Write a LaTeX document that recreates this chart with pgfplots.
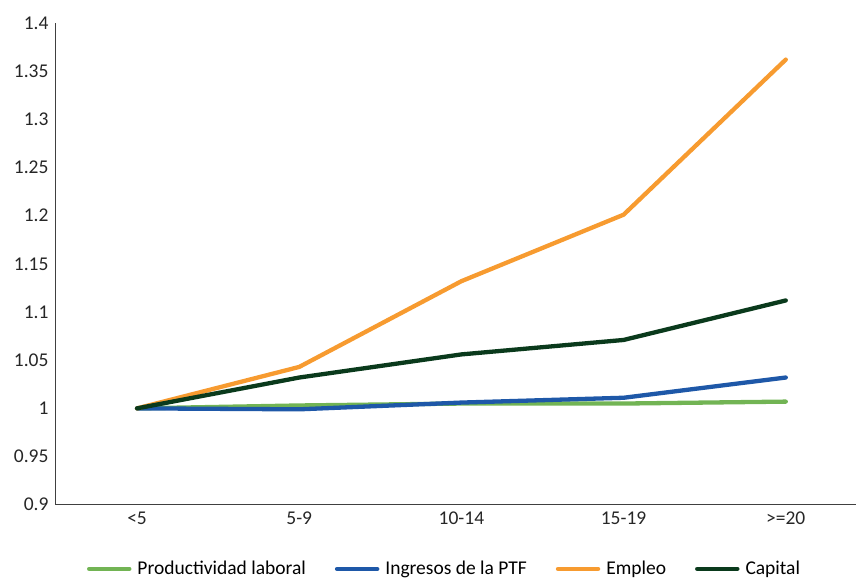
\documentclass[border=0pt]{standalone}
\usepackage{pgfplots}
\pgfplotsset{compat=1.18}
\usepackage{fontspec}
\setmainfont{Carlito}
\definecolor{cprod}{HTML}{72B454}
\definecolor{cptf}{HTML}{1E58A8}
\definecolor{cemp}{HTML}{F79B30}
\definecolor{ccap}{HTML}{0A3A1C}
\begin{document}
\begin{tikzpicture}
\begin{axis}[
  scale only axis,
  width=800pt, height=482pt,
  xmin=-0.5, xmax=4.43,
  ymin=0.9, ymax=1.4,
  ytick={0.9,0.95,...,1.41},
  yticklabels={0.9,0.95,1,1.05,1.1,1.15,1.2,1.25,1.3,1.35,1.4},
  xtick={0,1,2,3,4},
  xticklabels={<5,5-9,10-14,15-19,>=20},
  axis x line*=bottom, axis y line*=left,
  axis line style={draw=black!75, line width=1pt},
  x axis line style={-}, y axis line style={-},
  major tick length=0pt,
  tick label style={font=\fontsize{19.5}{22}\selectfont, text=black!85},
  yticklabel style={xshift=-4pt},
  xticklabel style={yshift=-4pt},
  /pgf/number format/assume math mode=true,
  legend columns=4,
  legend style={draw=none, fill=none, at={(0.486,-0.109)}, anchor=north,
    font=\fontsize{19.5}{22}\selectfont, column sep=4pt,
    /tikz/every even column/.append style={column sep=27pt}},
  legend image code/.code={\draw[#1, line width=4.5pt, line cap=round] (0pt,0pt) -- (40pt,0pt);},
  every axis plot/.append style={line width=4.3pt, line join=round, line cap=round},
  clip=false,
]
\addplot[color=cprod] coordinates {(0,1.0) (1,1.003) (2,1.005) (3,1.005) (4,1.007)};
\addlegendentry{Productividad laboral}
\addplot[color=cptf] coordinates {(0,1.0) (1,0.999) (2,1.006) (3,1.011) (4,1.032)};
\addlegendentry{Ingresos de la PTF}
\addplot[color=cemp] coordinates {(0,1.0) (1,1.043) (2,1.132) (3,1.201) (4,1.362)};
\addlegendentry{Empleo}
\addplot[color=ccap] coordinates {(0,1.0) (1,1.032) (2,1.056) (3,1.071) (4,1.112)};
\addlegendentry{Capital}
\end{axis}
\path[use as bounding box] ([xshift=-56pt,yshift=-73pt]current axis.south west) rectangle ([yshift=23pt]current axis.north east);
\end{tikzpicture}
\end{document}
